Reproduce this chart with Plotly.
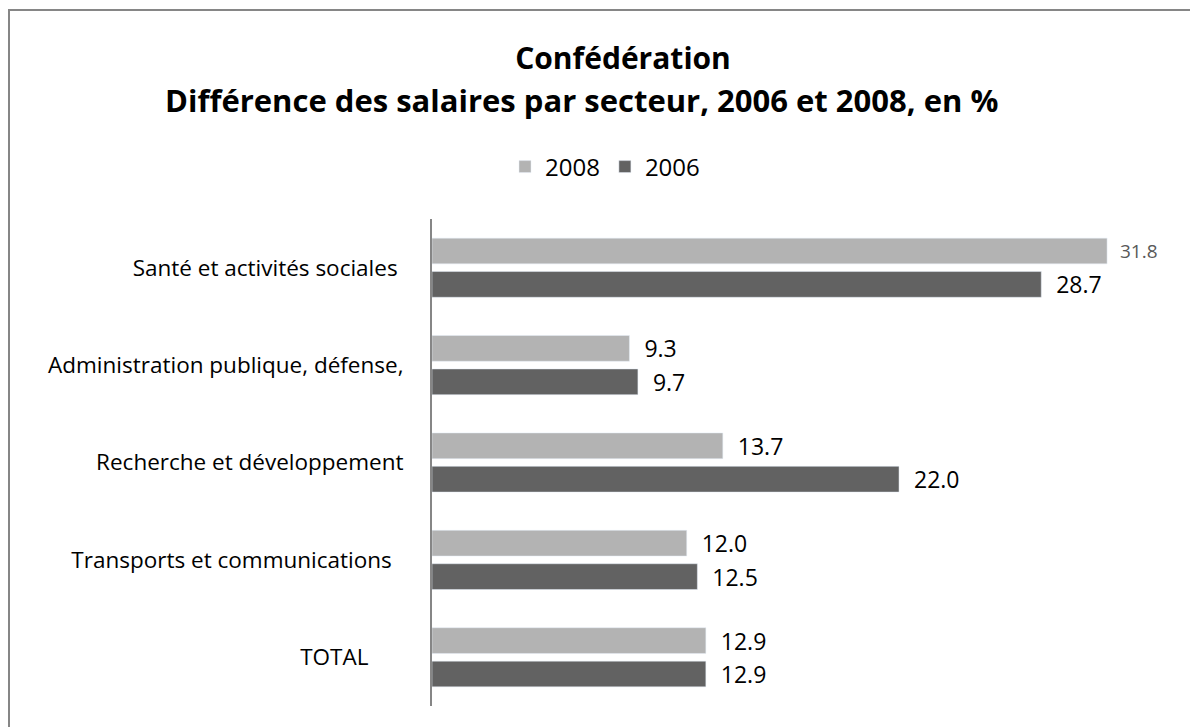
import plotly.graph_objects as go

categories = ["Santé et activités sociales", "Administration publique, défense,",
              "Recherche et développement", "Transports et communications", "TOTAL"]
values_2008 = [31.8, 9.3, 13.7, 12.0, 12.9]
values_2006 = [28.7, 9.7, 22.0, 12.5, 12.9]
series_names = ["2008", "2006"]

title_line1 = "Confédération"
title_line2 = "Différence des salaires par secteur, 2006 et 2008, en %"

light_color = '#b3b3b3'
dark_color = '#626262'
border_color = '#868686'
font_family = "'Open Sans', Lato, sans-serif"

# trailing blanks in the original tick labels
pad = {"Transports et communications": 2, "TOTAL": 6, "Santé et activités sociales": 1}
ticktext = [c + "\u00a0" * pad.get(c, 0) for c in categories]

label_gap = "\u00a0\u00a0"

# the first 2008 label is smaller and lighter in the original
size_2008 = [19] + [23] * (len(values_2008) - 1)
color_2008 = ['#595959'] + ['#000000'] * (len(values_2008) - 1)

bar_2008 = go.Bar(
    y=categories, x=values_2008, name=series_names[0], orientation='h',
    marker=dict(color=light_color),
    text=[f"{label_gap}{v:.1f}" for v in values_2008],
    textposition='outside', cliponaxis=False, constraintext='none',
    textfont=dict(size=size_2008, color=color_2008, family=font_family))

bar_2006 = go.Bar(
    y=categories, x=values_2006, name=series_names[1], orientation='h',
    marker=dict(color=dark_color),
    text=[f"{label_gap}{v:.1f}" for v in values_2006],
    textposition='outside', cliponaxis=False, constraintext='none',
    textfont=dict(size=23, color='#000000', family=font_family))

# the page puts the figure 8px in from the corner, so page pixels are shifted
W, H = 1198, 727
OFF = 8
left = 432 - OFF
top = 219 - OFF
right = W - (1175 - OFF)
bottom = H - (706 - OFF)
pw = W - left - right
ph = H - top - bottom


def px_x(x):
    return (x - OFF - left) / pw


def px_y(y):
    return (H - bottom - (y - OFF)) / ph


layout = go.Layout(
    width=W, height=H,
    margin=dict(l=left, r=right, t=top, b=bottom),
    paper_bgcolor='white', plot_bgcolor='white',
    font=dict(family=font_family, size=22, color='#000000'),
    barmode='group', bargap=0.314, bargroupgap=0.23,
    title=dict(text=f"<b>{title_line1}</b>", x=(623 - OFF) / W, xanchor='center',
               y=1 - (58 - OFF) / H, yanchor='middle', font=dict(size=30)),
    legend=dict(orientation='h', xref='container', yref='container',
                x=(605 - OFF) / W, xanchor='center', y=1 - (167 - OFF) / H, yanchor='middle',
                font=dict(size=24), itemwidth=30, traceorder='normal'),
    xaxis=dict(range=[0, 35], visible=False, showgrid=False, zeroline=False),
    yaxis=dict(autorange='reversed', showline=True, linecolor=border_color, linewidth=2,
               showgrid=False, ticks='', ticklabelstandoff=22,
               tickmode='array', tickvals=categories, ticktext=ticktext,
               tickfont=dict(size=22.5)),
    annotations=[dict(text=f"<b>{title_line2}</b>", xref='paper', yref='paper',
                      x=px_x(581), y=px_y(100), xanchor='center', yanchor='middle',
                      showarrow=False, font=dict(size=31))],
    shapes=[
        dict(type='line', xref='paper', yref='paper', x0=px_x(9), x1=px_x(9),
             y0=px_y(10), y1=px_y(H + 20), line=dict(color=border_color, width=2)),
        dict(type='line', xref='paper', yref='paper', x0=px_x(8), x1=px_x(W + 20),
             y0=px_y(10), y1=px_y(10), line=dict(color=border_color, width=2)),
    ],
)

fig = go.Figure(data=[bar_2008, bar_2006], layout=layout)
fig.write_html("out.html")
